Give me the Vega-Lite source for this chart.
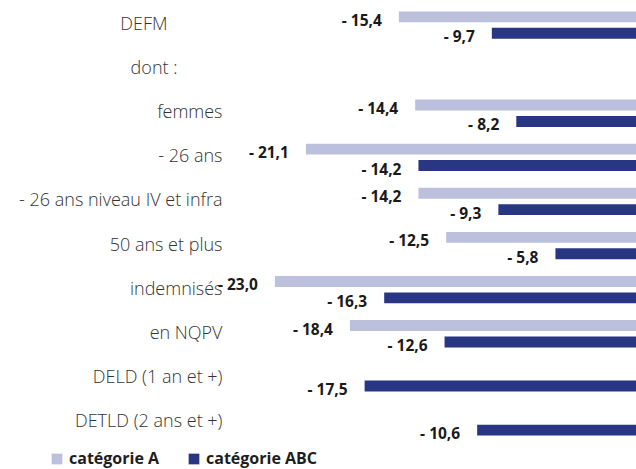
{
  "$schema": "https://vega.github.io/schema/vega-lite/v6.json",
  "autosize": {"type": "none"},
  "width": 410,
  "height": 441,
  "padding": {"left": 226, "top": 3, "right": 0, "bottom": 25},
  "config": {"view": {"stroke": null}, "font": "Open Sans"},
  "data": {
    "values": [
      {"cat": "DEFM", "serie": "catégorie A", "v": -15.4, "label": "- 15,4"},
      {"cat": "DEFM", "serie": "catégorie ABC", "v": -9.7, "label": "- 9,7"},
      {"cat": "femmes", "serie": "catégorie A", "v": -14.4, "label": "- 14,4"},
      {"cat": "femmes", "serie": "catégorie ABC", "v": -8.2, "label": "- 8,2"},
      {"cat": "- 26 ans", "serie": "catégorie A", "v": -21.1, "label": "- 21,1"},
      {"cat": "- 26 ans", "serie": "catégorie ABC", "v": -14.2, "label": "- 14,2"},
      {"cat": "- 26 ans niveau IV et infra", "serie": "catégorie A", "v": -14.2, "label": "- 14,2"},
      {"cat": "- 26 ans niveau IV et infra", "serie": "catégorie ABC", "v": -9.3, "label": "- 9,3"},
      {"cat": "50 ans et plus", "serie": "catégorie A", "v": -12.5, "label": "- 12,5"},
      {"cat": "50 ans et plus", "serie": "catégorie ABC", "v": -5.8, "label": "- 5,8"},
      {"cat": "indemnisés", "serie": "catégorie A", "v": -23.0, "label": "- 23,0"},
      {"cat": "indemnisés", "serie": "catégorie ABC", "v": -16.3, "label": "- 16,3"},
      {"cat": "en NQPV", "serie": "catégorie A", "v": -18.4, "label": "- 18,4"},
      {"cat": "en NQPV", "serie": "catégorie ABC", "v": -12.6, "label": "- 12,6"},
      {"cat": "DELD (1 an et +)", "serie": "catégorie ABC", "v": -17.5, "label": "- 17,5"},
      {"cat": "DETLD (2 ans et +)", "serie": "catégorie ABC", "v": -10.6, "label": "- 10,6"}
    ]
  },
  "encoding": {
    "y": {
      "field": "cat",
      "type": "nominal",
      "sort": null,
      "title": null,
      "scale": {
        "domain": ["DEFM", "dont :", "femmes", "- 26 ans", "- 26 ans niveau IV et infra", "50 ans et plus", "indemnisés", "en NQPV", "DELD (1 an et +)", "DETLD (2 ans et +)"],
        "paddingInner": 0.38,
        "paddingOuter": 0.19
      },
      "axis": {
        "domain": false,
        "ticks": false,
        "grid": false,
        "labelFont": "Open Sans",
        "labelFontSize": 18,
        "labelFontWeight": 300,
        "labelColor": "#333333",
        "labelLimit": 400,
        "labelPadding": {"expr": "datum.value == 'DEFM' ? 59 : datum.value == 'dont :' ? 49 : 4"}
      }
    },
    "yOffset": {
      "field": "serie",
      "type": "nominal",
      "scale": {"domain": ["catégorie A", "catégorie ABC"], "paddingInner": 0.333, "paddingOuter": 0}
    },
    "x": {
      "field": "v",
      "type": "quantitative",
      "scale": {"domain": [-26, -0.86], "nice": false, "zero": false},
      "axis": null
    }
  },
  "layer": [
    {
      "mark": {"type": "bar", "clip": true},
      "encoding": {
        "x2": {"datum": 0},
        "color": {
          "field": "serie",
          "type": "nominal",
          "scale": {"domain": ["catégorie A", "catégorie ABC"], "range": ["#bcc0dd", "#293683"]},
          "legend": {
            "orient": "none",
            "legendX": -177,
            "legendY": 448,
            "direction": "horizontal",
            "title": null,
            "symbolType": "square",
            "symbolSize": 115,
            "symbolStrokeWidth": 0,
            "symbolOpacity": 1,
            "labelFont": "Open Sans",
            "labelFontSize": 16,
            "labelFontWeight": "bold",
            "labelColor": "#1e1e1e",
            "labelOffset": 4,
            "columnPadding": 26
          }
        }
      }
    },
    {
      "mark": {"type": "text", "align": "right", "baseline": "middle", "dx": -17, "dy": 4, "font": "Open Sans", "fontWeight": "bold", "fontSize": 15.5, "color": "#1a1a1a"},
      "encoding": {"text": {"field": "label"}}
    }
  ]
}
